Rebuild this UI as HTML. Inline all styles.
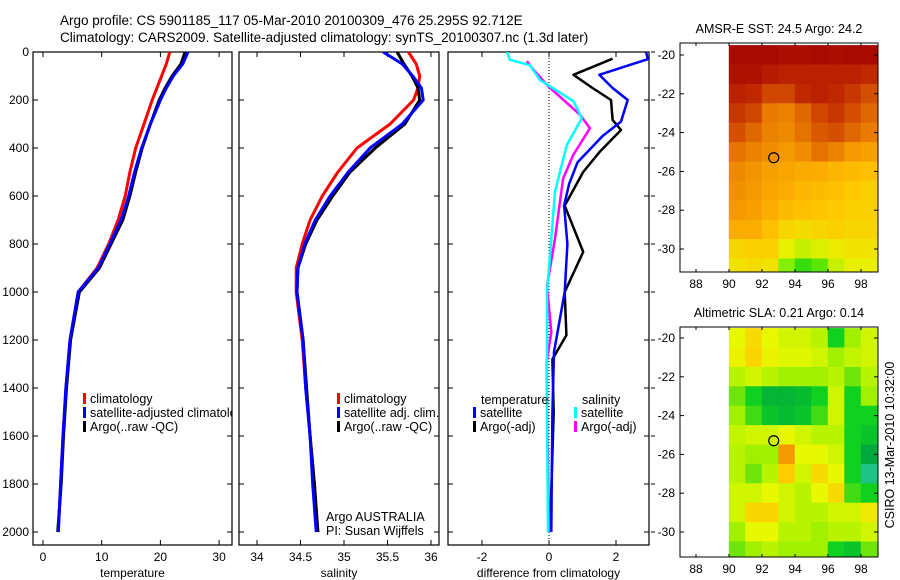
<!DOCTYPE html>
<html><head><meta charset="utf-8">
<style>
html,body{margin:0;padding:0;background:#fff;}
svg{display:block;font-family:"Liberation Sans",sans-serif;}
text{fill:#000;}
</style></head>
<body>
<svg id="chart" width="900" height="580" viewBox="0 0 900 580"></svg>
<script>
// ---------- data ----------
const profDepths = [0,50,100,150,200,300,400,500,600,700,800,900,1000,1200,1400,1600,1800,2000];
const tempClim = [21.6,21.0,20.2,19.4,18.6,17.2,15.8,14.8,14.0,12.8,11.2,9.2,6.0,4.6,3.9,3.4,3.0,2.6];
const tempSat  = [24.7,23.8,22.2,21.0,20.0,18.3,16.8,15.6,14.6,13.3,11.4,9.4,6.0,4.6,3.9,3.4,3.0,2.6];
const tempArgo = [24.2,23.5,22.0,20.8,19.8,18.3,16.9,15.8,14.8,13.6,11.6,9.6,6.2,4.7,4.0,3.5,3.1,2.5];
const salClim = [35.74,35.83,35.87,35.85,35.80,35.53,35.15,34.93,34.75,34.61,34.52,34.45,34.45,34.52,34.56,34.61,34.66,34.70];
const salSat  = [35.45,35.67,35.79,35.89,35.91,35.67,35.30,35.05,34.84,34.67,34.55,34.47,34.46,34.53,34.56,34.61,34.64,34.68];
const salArgo = [35.61,35.69,35.78,35.85,35.87,35.70,35.36,35.07,34.87,34.69,34.56,34.47,34.46,34.53,34.57,34.61,34.66,34.70];

const dTempSatDepths = [0,30,95,150,200,290,350,460,550,640,800,1000,1250,1500,2000];
const dTempSat = [2.9,2.95,1.5,1.9,2.35,2.15,1.6,0.85,0.6,0.45,0.55,0.47,0.15,0.1,0.07];
const dTempArgoDepths = [28,95,150,200,283,325,415,500,640,833,1000,1180,1280,1500,2000];
const dTempArgo = [1.9,0.73,1.3,1.85,1.9,2.15,1.52,1.02,0.47,1.02,0.47,0.52,0.1,0.14,0.03];
const dSalSatDepths = [0,32,55,117,205,276,388,582,850,1000,1500,2000];
const dSalSat = [-1.25,-1.17,-0.57,-0.27,0.73,0.98,0.53,0.18,0.03,-0.06,-0.06,-0.03];
const dSalArgoDepths = [38,68,138,262,318,430,527,778,975,1167,1293,1560,2000];
const dSalArgo = [-0.66,-0.5,-0.06,0.93,1.22,0.72,0.42,0.18,-0.06,0.07,-0.07,-0.05,0.0];

const mapLats = [-20,-21,-22,-23,-24,-25,-26,-27,-28,-29,-30,-31];
const mapLons = [90,91,92,93,94,95,96,97,98];
const sstGrid = [
 [0.97,0.97,0.97,0.96,0.96,0.97,0.96,0.97,0.97],
 [0.95,0.95,0.92,0.90,0.90,0.90,0.90,0.90,0.88],
 [0.90,0.88,0.82,0.82,0.88,0.90,0.88,0.85,0.80],
 [0.85,0.82,0.70,0.68,0.75,0.82,0.85,0.80,0.75],
 [0.80,0.75,0.68,0.66,0.72,0.78,0.80,0.75,0.70],
 [0.72,0.68,0.65,0.62,0.65,0.72,0.68,0.62,0.60],
 [0.66,0.63,0.60,0.58,0.56,0.55,0.52,0.50,0.48],
 [0.64,0.62,0.58,0.55,0.52,0.50,0.48,0.45,0.42],
 [0.62,0.60,0.55,0.50,0.48,0.46,0.45,0.42,0.42],
 [0.55,0.55,0.48,0.40,0.38,0.40,0.42,0.40,0.40],
 [0.40,0.42,0.42,0.30,0.25,0.28,0.32,0.35,0.35],
 [0.35,0.38,0.35,0.15,0.05,0.10,0.25,0.30,0.30]];
const slaGrid = [
 [0.60,0.70,0.60,0.55,0.55,0.50,0.30,0.45,0.55],
 [0.62,0.72,0.62,0.58,0.58,0.55,0.45,0.52,0.55],
 [0.50,0.55,0.50,0.45,0.45,0.45,0.50,0.40,0.50],
 [0.40,0.30,0.20,0.20,0.22,0.30,0.55,0.30,0.45],
 [0.45,0.35,0.25,0.22,0.25,0.35,0.55,0.30,0.30],
 [0.52,0.55,0.55,0.60,0.55,0.50,0.50,0.30,0.25],
 [0.50,0.45,0.45,0.85,0.60,0.60,0.55,0.30,0.15],
 [0.50,0.40,0.50,0.75,0.55,0.70,0.60,0.30,0.05],
 [0.55,0.55,0.60,0.55,0.50,0.60,0.70,0.35,0.30],
 [0.55,0.72,0.72,0.55,0.50,0.50,0.55,0.55,0.65],
 [0.45,0.60,0.60,0.50,0.50,0.45,0.50,0.50,0.55],
 [0.40,0.45,0.50,0.45,0.45,0.45,0.30,0.25,0.40]];
const argoLon = 92.712, argoLat = -25.295;
const depthTicks = [0,200,400,600,800,1000,1200,1400,1600,1800,2000];
const tempTicks = [0,10,20,30];
const salTicks = [34,34.5,35,35.5,36];
const diffTicks = [-2,0,2];
const mapLonTicks = [88,90,92,94,96,98];
const mapLatTicks = [-20,-22,-24,-26,-28,-30];

// ---------- helpers ----------
const NS="http://www.w3.org/2000/svg";
const svg=document.getElementById('chart');
function el(tag,attrs,parent){const e=document.createElementNS(NS,tag);for(const k in attrs)e.setAttribute(k,attrs[k]);(parent||svg).appendChild(e);return e;}
function txt(s,x,y,anchor,size,parent){const t=el('text',{x:x,y:y,'text-anchor':anchor||'start','font-size':size||12},parent);t.textContent=s;return t;}
const yD = d => 52 + d*0.24;
const xT = t => 43 + t*5.87;
const xS = s => 257 + (s-34)*87;
const xDf = v => 549 + v*33.5;
function stair(depths,vals,xf){let p='';for(let i=0;i<depths.length;i++){p+=(i?'L':'M')+xf(vals[i]).toFixed(1)+','+yD(depths[i]).toFixed(1);}return p;}

// ---------- titles ----------
let t=txt('Argo profile: CS 5901185_117 05-Mar-2010 20100309_476 25.295S 92.712E',60,25,'start',13.5);

t=txt('Climatology: CARS2009. Satellite-adjusted climatology: synTS_20100307.nc (1.3d later)',60,42,'start',13.5);


// ---------- profile panels ----------
function panel(name,x0,x1,ticks,xf,label,tickFmt,showDepth,rightTicks){
  const g=el('g',{});
  
  
  el('rect',{x:x0,y:52,width:x1-x0,height:493,fill:'none',stroke:'#000','stroke-width':1.2},g);
  depthTicks.forEach(d=>{
    el('line',{x1:x0,y1:yD(d),x2:x0+5,y2:yD(d),stroke:'#000'},g);
    el('line',{x1:x1,y1:yD(d),x2:x1-5,y2:yD(d),stroke:'#000'},g);
    if(rightTicks) el('line',{x1:x1+2,y1:yD(d),x2:x1+6,y2:yD(d),stroke:'#000'},g);
    if(showDepth){const l=txt(String(d),29,yD(d)+4,'end',12,g);}
  });
  ticks.forEach(v=>{
    const x=xf(v);
    el('line',{x1:x,y1:545,x2:x,y2:540,stroke:'#000'},g);
    el('line',{x1:x,y1:52,x2:x,y2:57,stroke:'#000'},g);
    const l=txt(tickFmt(v),x,561,'middle',12,g);
  });
  const lab=txt(label,(x0+x1)/2,577,'middle',12,g);
  
  return g;
}
function series(g,name,depths,vals,xf,color,w){
  const p=el('path',{d:stair(depths,vals,xf),fill:'none',stroke:color,'stroke-width':w||3,'stroke-linejoin':'round'},g);
  
}
function legend(g,x,y,entries){
  entries.forEach((e,i)=>{
    const yy=y+i*14;
    const r=el('rect',{x:x,y:yy-10,width:3,height:11,fill:e[1]},g);
    
    const l=txt(e[0],x+7,yy,'start',12.5,g);
    
  });
}
// panel 1
const g1=panel('temperature-panel',33,232,tempTicks,xT,'temperature',v=>String(v),true,false);
const c1=el('clipPath',{id:'cp1'});el('rect',{x:33,y:52,width:199,height:493},c1);
const s1=el('g',{'clip-path':'url(#cp1)'},g1);
series(s1,'temp-climatology-line',profDepths,tempClim,xT,'#ff0000');
series(s1,'temp-argo-line',profDepths,tempArgo,xT,'#000000');
series(s1,'temp-satellite-line',profDepths,tempSat,xT,'#0000ff');
const lg1=el('g',{'clip-path':'url(#cp1)'},g1);
legend(lg1,83,403,[['climatology','#ff0000'],['satellite-adjusted climatology','#0000ff'],['Argo(..raw -QC)','#000000']]);
// panel 2
const g2=panel('salinity-panel',239,439,salTicks,xS,'salinity',v=>String(v),false,false);
const c2=el('clipPath',{id:'cp2'});el('rect',{x:239,y:52,width:200,height:493},c2);
const s2=el('g',{'clip-path':'url(#cp2)'},g2);
series(s2,'sal-climatology-line',profDepths,salClim,xS,'#ff0000');
series(s2,'sal-argo-line',profDepths,salArgo,xS,'#000000');
series(s2,'sal-satellite-line',profDepths,salSat,xS,'#0000ff');
legend(g2,337,403,[['climatology','#ff0000'],['satellite adj. clim.','#0000ff'],['Argo(..raw -QC)','#000000']]);
t=txt('Argo AUSTRALIA',326,521,'start',12.5,g2);
t=txt('PI: Susan Wijffels',326,535,'start',12.5,g2);
// panel 3
const g3=panel('difference-panel',448,649,diffTicks,xDf,'difference from climatology',v=>String(v),false,true);
const zl=el('line',{x1:xDf(0),y1:52,x2:xDf(0),y2:545,stroke:'#000','stroke-dasharray':'1,2','stroke-width':1},g3);

const c3=el('clipPath',{id:'cp3'});el('rect',{x:448,y:52,width:201,height:493},c3);
const s3=el('g',{'clip-path':'url(#cp3)'},g3);
series(s3,'diff-temp-argo-line',dTempArgoDepths,dTempArgo,xDf,'#000000',2.5);
series(s3,'diff-temp-satellite-line',dTempSatDepths,dTempSat,xDf,'#0000ff',2.5);
series(s3,'diff-sal-argo-line',dSalArgoDepths,dSalArgo,xDf,'#ff00ff',2.5);
series(s3,'diff-sal-satellite-line',dSalSatDepths,dSalSat,xDf,'#00ffff',2.5);
t=txt('temperature',481,404,'start',12.5,g3);
t=txt('salinity',582,404,'start',12.5,g3);
legend(g3,473,417,[['satellite','#0000ff'],['Argo(-adj)','#000000']]);
legend(g3,574,417,[['satellite','#00ffff'],['Argo(-adj)','#ff00ff']]);

// ---------- maps ----------
function lerpColor(stops,v){
  v=Math.max(0,Math.min(1,v));
  for(let i=1;i<stops.length;i++){
    if(v<=stops[i][0]){
      const a=stops[i-1],b=stops[i],f=(v-a[0])/(b[0]-a[0]);
      const ca=a[1],cb=b[1];
      return 'rgb('+[0,1,2].map(k=>Math.round(ca[k]+(cb[k]-ca[k])*f)).join(',')+')';
    }
  }
  const c=stops[stops.length-1][1];return 'rgb('+c.join(',')+')';
}
const sstStops=[[0,[16,210,16]],[0.15,[130,240,0]],[0.3,[232,240,0]],[0.45,[255,200,0]],[0.6,[248,160,0]],[0.75,[224,104,0]],[0.88,[192,40,0]],[1,[160,0,0]]];
const slaStops=[[0,[48,208,170]],[0.15,[0,168,64]],[0.3,[16,208,32]],[0.45,[160,240,0]],[0.6,[232,248,0]],[0.75,[255,204,0]],[0.9,[240,128,0]],[1,[230,100,0]]];
function mapPanel(name,top,bottom,title,grid,stops,ylab0){
  const g=el('g',{});
  
  const xL=lon=>729+(lon-90)*16.5;
  const yL=lat=>ylab0+(-20-lat)*19.4;
  const cid='mc'+name;
  const cp=el('clipPath',{id:cid});el('rect',{x:680,y:top,width:198,height:bottom-top},cp);
  const cg=el('g',{'clip-path':'url(#'+cid+')'},g);
  grid.forEach((row,j)=>row.forEach((v,i)=>{
    const lon=mapLons[i],lat=mapLats[j];
    const c=el('rect',{x:xL(lon)-0.2,y:yL(lat+0.5)-0.2,width:16.9,height:19.8,fill:lerpColor(stops,v)},cg);
    
  }));
  el('rect',{x:680,y:top,width:198,height:bottom-top,fill:'none',stroke:'#000','stroke-width':1},g);
  mapLonTicks.forEach(lon=>{
    el('line',{x1:xL(lon),y1:bottom,x2:xL(lon),y2:bottom-3,stroke:'#000'},g);
    el('line',{x1:xL(lon),y1:top,x2:xL(lon),y2:top+3,stroke:'#000'},g);
    const l=txt(String(lon),xL(lon),bottom+16,'middle',12,g);
  });
  mapLatTicks.forEach(lat=>{
    el('line',{x1:680,y1:yL(lat),x2:684,y2:yL(lat),stroke:'#000'},g);
    el('line',{x1:878,y1:yL(lat),x2:874,y2:yL(lat),stroke:'#000'},g);
    const l=txt(String(lat),675,yL(lat)+4,'end',12,g);
  });
  const c=el('circle',{cx:xL(argoLon),cy:yL(argoLat),r:5,fill:'none',stroke:'#000','stroke-width':1.2},g);
  
  const tt=txt(title,779,top-10,'middle',12.5,g);
  
}
mapPanel('sst-map',43,272,'AMSR-E SST: 24.5 Argo: 24.2',sstGrid,sstStops,55);
mapPanel('sla-map',327,557,'Altimetric SLA: 0.21 Argo: 0.14',slaGrid,slaStops,338);
t=txt('CSIRO 13-Mar-2010 10:32:00',0,0,'middle',12.5);
t.setAttribute('transform','translate(894,445) rotate(-90)');

</script>
</body></html>
